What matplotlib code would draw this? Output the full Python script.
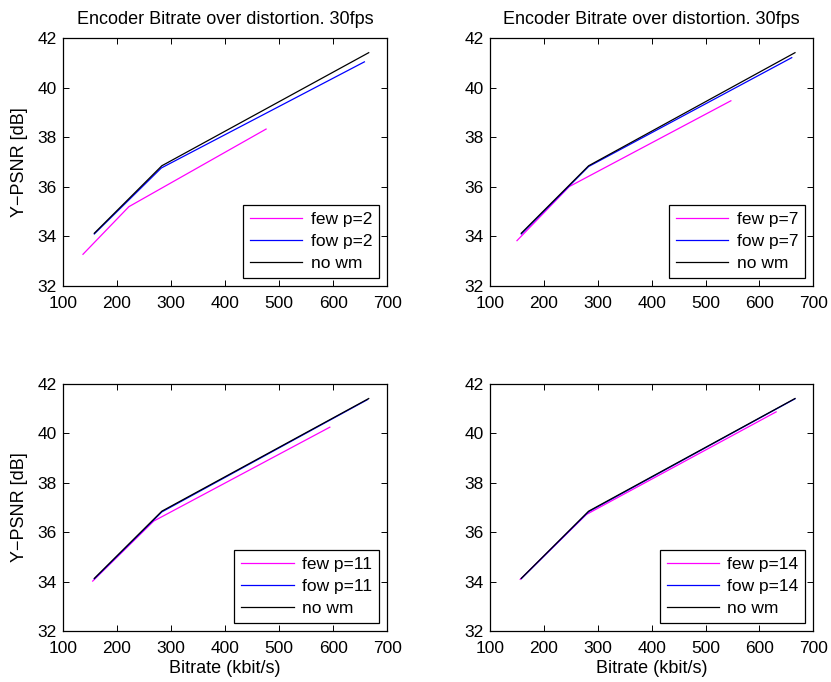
#Rate-distortion curves of the encoder with and without watermarking

#Importing libraries
import numpy as np
import matplotlib.pyplot as plt

plt.rcParams['font.family'] = ['Liberation Sans', 'DejaVu Sans']

#Reference encoder without watermark (same in every panel)
nowm_rate = [158, 283, 666]
nowm_psnr = [34.13, 36.85, 41.41]

#Watermark strength per panel
p_values = [2, 7, 11, 14]

#few watermark: bitrate and Y-PSNR per p
few_rate = [[137, 222, 476],
            [150, 247, 547],
            [155, 268, 594],
            [156, 279, 631]]
few_psnr = [[33.28, 35.20, 38.33],
            [33.83, 36.01, 39.47],
            [34.02, 36.45, 40.25],
            [34.09, 36.72, 40.87]]

#fow watermark: bitrate and Y-PSNR per p
fow_rate = [[158, 282, 658],
            [158, 283, 660],
            [158, 283, 664],
            [158, 283, 666]]
fow_psnr = [[34.10, 36.76, 41.04],
            [34.10, 36.82, 41.21],
            [34.11, 36.82, 41.37],
            [34.12, 36.83, 41.40]]

xticks = [100, 200, 300, 400, 500, 600, 700]
yticks = [32, 34, 36, 38, 40, 42]

fig = plt.figure(figsize=(8.31, 6.82), dpi=100)
boxes = [[0.0758, 0.5806, 0.390, 0.3636],
         [0.5897, 0.5806, 0.389, 0.3636],
         [0.0758, 0.0748, 0.390, 0.3622],
         [0.5897, 0.0748, 0.389, 0.3622]]

for i, p in enumerate(p_values):
    ax = fig.add_axes(boxes[i])
    ax.plot(few_rate[i], few_psnr[i], color=(1, 0, 1), lw=0.9, label='few p=%d' % p)
    ax.plot(fow_rate[i], fow_psnr[i], color=(0, 0, 1), lw=0.9, label='fow p=%d' % p)
    ax.plot(nowm_rate, nowm_psnr, color='k', lw=0.9, label='no wm')
    ax.set_xlim(100, 700)
    ax.set_ylim(32, 42)
    ax.set_xticks(xticks)
    ax.set_yticks(yticks)
    ax.tick_params(direction='in', top=True, right=True, labelsize=12.5,
                   length=4, width=0.7)
    ax.tick_params(axis='x', pad=7)
    ax.tick_params(axis='y', pad=4.3)
    for s in ax.spines.values():
        s.set_linewidth(0.9)
    leg = ax.legend(loc='lower right', fontsize=12.5, fancybox=False,
                    edgecolor='k', framealpha=1, handlelength=3.0,
                    borderaxespad=0.45, labelspacing=0.4, handletextpad=0.5,
                    borderpad=0.4)
    leg.get_frame().set_linewidth(0.9)
    if i < 2:
        ax.set_title('Encoder Bitrate over distortion. 30fps', fontsize=13, pad=10)
    else:
        ax.set_xlabel('Bitrate (kbit/s)', fontsize=13, labelpad=3)
    if i % 2 == 0:
        ax.set_ylabel('Y\u2212PSNR [dB]', fontsize=13, labelpad=7)

plt.savefig('out.png', dpi=100)
